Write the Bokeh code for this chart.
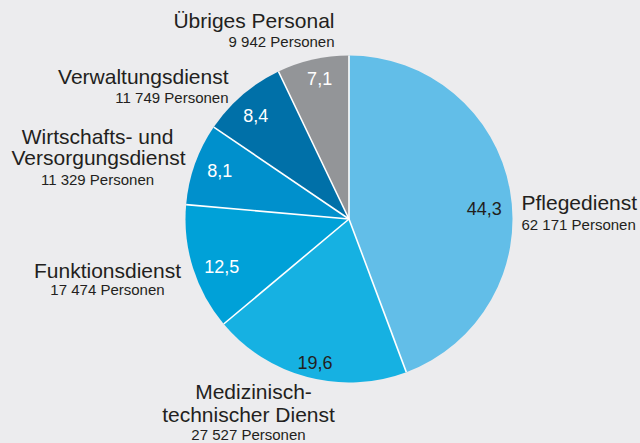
import math
from bokeh.plotting import figure
from bokeh.models import ColumnDataSource, Range1d, GlobalInlineStyleSheet
from bokeh.core.properties import value
from bokeh.embed import file_html
from bokeh.resources import INLINE

# ---------------- data ----------------
categories = ["Pflegedienst", "Medizinisch-technischer Dienst", "Funktionsdienst",
              "Wirtschafts- und Versorgungsdienst", "Verwaltungsdienst", "Übriges Personal"]
label_lines = [["Pflegedienst"], ["Medizinisch-", "technischer Dienst"], ["Funktionsdienst"],
               ["Wirtschafts- und", "Versorgungsdienst"], ["Verwaltungsdienst"], ["Übriges Personal"]]
shares = [44.3, 19.6, 12.5, 8.1, 8.4, 7.1]
persons = [62171, 27527, 17474, 11329, 11749, 9942]

# ---------------- style / layout ----------------
colors = ["#62bee8", "#16b1e2", "#00a1d8", "#0090cc", "#0070a8", "#939598"]
value_colors = ["#231f20", "#231f20", "#ffffff", "#ffffff", "#ffffff", "#ffffff"]
value_radius_factor = [0.83, 0.9, 0.83, 0.845, 0.85, 0.88]
value_angle_shift_deg = [5.8, -1.4, -3.0, 1.0, -1.4, 1.0]
# x per big line, align, vertical centres of big lines, persons x, persons centre
label_layout = [
    ([521], "left", [241.5], 521, 219.5),
    ([253, 248], "center", [52.5, 29.5], 248, 9.5),
    ([107], "center", [173.5], 107, 154.5),
    ([97, 98], "center", [307.5, 286.5], 97, 264.5),
    ([228], "right", [367.5], 228, 346.5),
    ([334], "right", [423.5], 334, 402.5),
]
BG = "#ececee"
DARK = "#231f20"
FONT = "Liberation Sans"
W, H = 640, 443
cx, cy, R = 348.5, 224.5, 163.5

p = figure(width=W, height=H, x_range=Range1d(0, W), y_range=Range1d(0, H),
           output_backend="svg", toolbar_location=None, min_border=0)
p.axis.visible = False
p.grid.visible = False
p.outline_line_color = None
p.background_fill_color = BG
p.border_fill_color = BG
p.stylesheets = [GlobalInlineStyleSheet(css="body { background-color: %s; }" % BG)]

total = sum(shares)
cum = [0.0]
for s in shares:
    cum.append(cum[-1] + s / total)

starts = [math.pi / 2 - 2 * math.pi * cum[i + 1] for i in range(len(shares))]
ends = [math.pi / 2 - 2 * math.pi * cum[i] for i in range(len(shares))]
src = ColumnDataSource(dict(x=[cx] * len(shares), y=[cy] * len(shares),
                            start=starts, end=ends, color=colors, cat=categories))
p.wedge(x="x", y="y", radius=R, start_angle="start", end_angle="end",
        fill_color="color", line_color=None, source=src)

# white separators
bx = [cx + R * math.cos(math.pi / 2 - 2 * math.pi * c) for c in cum[:-1]]
by = [cy + R * math.sin(math.pi / 2 - 2 * math.pi * c) for c in cum[:-1]]
p.segment(x0=[cx] * len(bx), y0=[cy] * len(by), x1=bx, y1=by,
          line_color="white", line_width=1.6)

# value labels
vx, vy, vt = [], [], []
for i, s in enumerate(shares):
    mid = (cum[i] + cum[i + 1]) / 2 + value_angle_shift_deg[i] / 360.0
    th = math.pi / 2 - 2 * math.pi * mid
    f = value_radius_factor[i] * R
    vx.append(cx + f * math.cos(th))
    vy.append(cy + f * math.sin(th))
    vt.append(("%.1f" % s).replace(".", ","))
p.text(x=vx, y=vy, text=vt, text_align="center", text_baseline="middle",
       text_font=value(FONT), text_font_size="18px", text_color=value_colors)

# category labels
for i, (xs, align, centres, px_, pc) in enumerate(label_layout):
    p.text(x=xs, y=centres, text=label_lines[i],
           text_align=align, text_baseline="middle",
           text_font=value(FONT), text_font_size="21px", text_color=DARK)
    ptxt = "{:,}".format(persons[i]).replace(",", " ") + " Personen"
    p.text(x=[px_], y=[pc], text=[ptxt], text_align=align, text_baseline="middle",
           text_font=value(FONT), text_font_size="15px", text_color=DARK)

open("out.html", "w").write(file_html(p, INLINE))
